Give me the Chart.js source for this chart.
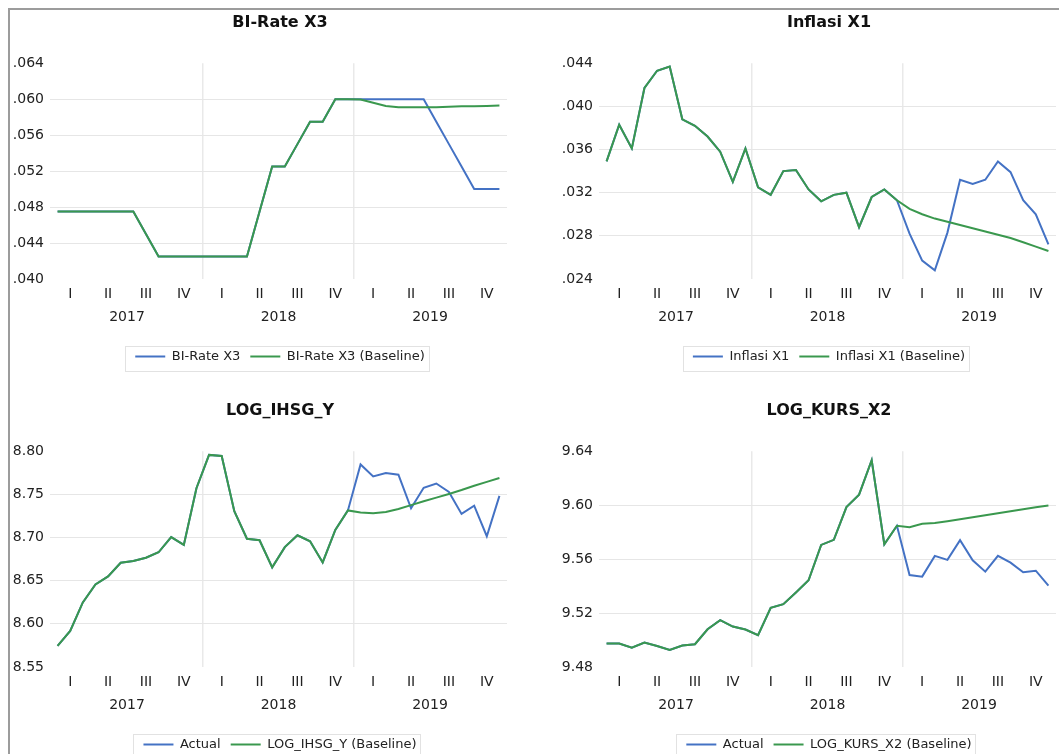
<!DOCTYPE html>
<html>
<head>
<meta charset="utf-8">
<script src="https://cdn.jsdelivr.net/npm/chart.js@4.4.1/dist/chart.umd.min.js"></script>
<style>
html, body { margin: 0; padding: 0; background: #fff; overflow: hidden; width: 1059px; height: 754px; }
#frame { position: absolute; left: 8px; top: 8px; width: 1200px; height: 900px; border-left: 2px solid #9c9c9c; border-top: 2px solid #9c9c9c; }
canvas { position: absolute; }
</style>
</head>
<body>
<div id="frame"></div>
<canvas id="c1" width="540" height="375" style="left:10px;top:10px"></canvas>
<canvas id="c2" width="540" height="375" style="left:559px;top:10px"></canvas>
<canvas id="c3" width="540" height="375" style="left:10px;top:398px"></canvas>
<canvas id="c4" width="540" height="375" style="left:559px;top:398px"></canvas>
<script>
// monthly sample 2017M01 - 2019M12
let months = [
    '2017M01','2017M02','2017M03','2017M04','2017M05','2017M06','2017M07','2017M08','2017M09','2017M10','2017M11','2017M12',
    '2018M01','2018M02','2018M03','2018M04','2018M05','2018M06','2018M07','2018M08','2018M09','2018M10','2018M11','2018M12',
    '2019M01','2019M02','2019M03','2019M04','2019M05','2019M06','2019M07','2019M08','2019M09','2019M10','2019M11','2019M12'
]
let quarterNames = ['I', 'II', 'III', 'IV']
let years = ['2017', '2018', '2019']

let biRate = [
    .0475, .0475, .0475, .0475, .0475, .0475, .0475, .0450, .0425, .0425, .0425, .0425,
    .0425, .0425, .0425, .0425, .0475, .0525, .0525, .0550, .0575, .0575, .0600, .0600,
    .0600, .0600, .0600, .0600, .0600, .0600, .0575, .0550, .0525, .0500, .0500, .0500
]
let biRateBase = [
    .0475, .0475, .0475, .0475, .0475, .0475, .0475, .0450, .0425, .0425, .0425, .0425,
    .0425, .0425, .0425, .0425, .0475, .0525, .0525, .0550, .0575, .0575, .0600, .0600,
    .05995, .0596, .05925, .0591, .0591, .0591, .0591, .05915, .0592, .0592, .05925, .0593
]
let biRateTicks = [.040, .044, .048, .052, .056, .060, .064]

let inflasi = [
    .0349, .0383, .0361, .0417, .0433, .0437, .0388, .0382, .0372, .0358, .0330, .0361,
    .0325, .0318, .0340, .0341, .0323, .0312, .0318, .0320, .0288, .0316, .0323, .0313,
    .0282, .0257, .0248, .0283, .0332, .0328, .0332, .0349, .0339, .0313, .0300, .0272
]
let inflasiBase = [
    .0349, .0383, .0361, .0417, .0433, .0437, .0388, .0382, .0372, .0358, .0330, .0361,
    .0325, .0318, .0340, .0341, .0323, .0312, .0318, .0320, .0288, .0316, .0323, .0313,
    .0305, .0300, .0296, .0293, .0290, .0287, .0284, .0281, .0278, .0274, .0270, .0266
]
let inflasiTicks = [.024, .028, .032, .036, .040, .044]

let ihsg = [
    8.5744, 8.5917, 8.6248, 8.6456, 8.6549, 8.6707, 8.6727, 8.6766, 8.6829, 8.7005, 8.6915, 8.7571,
    8.7957, 8.7944, 8.7305, 8.6986, 8.6968, 8.6655, 8.6889, 8.7026, 8.6956, 8.6711, 8.7088, 8.7314,
    8.7846, 8.7708, 8.7747, 8.7727, 8.7338, 8.7576, 8.7626, 8.7528, 8.7273, 8.7369, 8.7015, 8.7482
]
let ihsgBase = [
    8.5744, 8.5917, 8.6248, 8.6456, 8.6549, 8.6707, 8.6727, 8.6766, 8.6829, 8.7005, 8.6915, 8.7571,
    8.7957, 8.7944, 8.7305, 8.6986, 8.6968, 8.6655, 8.6889, 8.7026, 8.6956, 8.6711, 8.7088, 8.7314,
    8.7290, 8.7282, 8.7295, 8.7330, 8.7375, 8.7420, 8.7462, 8.7505, 8.7550, 8.7600, 8.7645, 8.7690
]
let ihsgTicks = [8.55, 8.60, 8.65, 8.70, 8.75, 8.80]

let kurs = [
    9.4974, 9.4974, 9.4944, 9.4981, 9.4956, 9.4927, 9.4959, 9.4969, 9.5080, 9.5147, 9.5100, 9.5078,
    9.5036, 9.5239, 9.5266, 9.5353, 9.5443, 9.5705, 9.5743, 9.5986, 9.6078, 9.6333, 9.5710, 9.5847,
    9.5482, 9.5470, 9.5624, 9.5594, 9.5740, 9.5591, 9.5507, 9.5624, 9.5574, 9.5502, 9.5514, 9.5403
]
let kursBase = [
    9.4974, 9.4974, 9.4944, 9.4981, 9.4956, 9.4927, 9.4959, 9.4969, 9.5080, 9.5147, 9.5100, 9.5078,
    9.5036, 9.5239, 9.5266, 9.5353, 9.5443, 9.5705, 9.5743, 9.5986, 9.6078, 9.6333, 9.5710, 9.5847,
    9.5837, 9.5862, 9.5867, 9.5880, 9.5895, 9.5910, 9.5925, 9.5940, 9.5955, 9.5969, 9.5984, 9.5998
]
let kursTicks = [9.48, 9.52, 9.56, 9.60, 9.64]

let blue = '#4472c4'
let green = '#3a984e'
let fontName = 'DejaVu Sans'

// quarter labels at mid-quarter, year labels at mid-year (second line)
let xTicks = []
years.forEach(function(yr, y) {
    quarterNames.forEach(function(q, k) { xTicks.push({value: y * 12 + k * 3 + 1, label: q}) })
    xTicks.push({value: y * 12 + 5.5, label: ['', yr]})
})
xTicks.sort(function(a, b) { return a.value - b.value })
let yearBreaks = years.slice(1).map(function(yr, y) { return y * 12 + 11.5 })

let legendFrame = {
    id: 'legendFrame',
    afterDraw: function(chart) {
        let boxes = chart.legend.legendHitBoxes
        if (!boxes || !boxes.length) return
        let left = Math.min(...boxes.map(b => b.left))
        let right = Math.max(...boxes.map(b => b.left + b.width))
        let mid = boxes[0].top + boxes[0].height / 2
        let ctx = chart.ctx
        ctx.save()
        ctx.strokeStyle = '#e2e2e2'
        ctx.lineWidth = 1
        ctx.strokeRect(Math.round(left - 10) + 0.5, Math.round(mid - 11) + 0.5, Math.round(right - left + 14), 25)
        ctx.restore()
    }
}

function makeChart(id, title, names, actual, baseline, yTicks, fmt) {
    let ctx = document.getElementById(id).getContext('2d')
    return new Chart(ctx, {
        type: 'line',
        data: {
            labels: months,
            datasets: [
                {label: names[0], data: actual.map((v, i) => ({x: i, y: v})), borderColor: blue, backgroundColor: blue, order: 1},
                {label: names[1], data: baseline.map((v, i) => ({x: i, y: v})), borderColor: green, backgroundColor: green, order: 0}
            ]
        },
        options: {
            responsive: false,
            devicePixelRatio: 1,
            animation: false,
            layout: {padding: {left: 0, right: 0, top: 0, bottom: 12}},
            elements: {
                line: {borderWidth: 2, tension: 0},
                point: {radius: 0, hoverRadius: 0}
            },
            scales: {
                x: {
                    type: 'linear', position: 'bottom', min: -0.6, max: 35.6,
                    afterBuildTicks: s => { s.ticks = xTicks.map(t => ({value: t.value})) },
                    afterFit: s => { s.height = 61 },
                    ticks: {
                        autoSkip: false, maxRotation: 0, minRotation: 0, padding: -4,
                        font: {family: fontName, size: 14, lineHeight: 23 / 14},
                        color: '#222',
                        callback: (v, i) => xTicks[i] ? xTicks[i].label : ''
                    },
                    grid: {display: false},
                    border: {display: false}
                },
                xg: {
                    type: 'linear', position: 'bottom', min: -0.6, max: 35.6,
                    afterBuildTicks: s => { s.ticks = yearBreaks.map(v => ({value: v})) },
                    afterFit: s => { s.height = 0 },
                    ticks: {display: false},
                    grid: {color: '#e9e9e9', lineWidth: 1.5, drawTicks: false},
                    border: {display: false}
                },
                y: {
                    type: 'linear', min: yTicks[0], max: yTicks[yTicks.length - 1],
                    afterBuildTicks: s => { s.ticks = yTicks.map(v => ({value: v})) },
                    afterFit: s => { s.width = 40 },
                    ticks: {
                        padding: 6, color: '#222',
                        font: {family: fontName, size: 14},
                        callback: v => fmt(v)
                    },
                    grid: {
                        color: c => (c.index === 0 || c.index === yTicks.length - 1) ? 'rgba(0,0,0,0)' : '#e6e6e6',
                        drawTicks: false
                    },
                    border: {display: false}
                },
                yr: {
                    type: 'linear', position: 'right',
                    afterFit: s => { s.width = 43 },
                    ticks: {display: false},
                    grid: {display: false},
                    border: {display: false}
                }
            },
            plugins: {
                title: {
                    display: true, text: title, color: '#111',
                    font: {family: fontName, size: 16, weight: 'bold'},
                    padding: {top: 3, bottom: 31}
                },
                legend: {
                    position: 'bottom',
                    labels: {
                        boxWidth: 30, boxHeight: 2, padding: 10, color: '#222',
                        font: {family: fontName, size: 13},
                        generateLabels: function(chart) {
                            let items = Chart.defaults.plugins.legend.labels.generateLabels(chart)
                            items.forEach(function(it) { it.lineWidth = 0; it.fillStyle = it.strokeStyle })
                            return items.sort((a, b) => a.datasetIndex - b.datasetIndex)
                        }
                    }
                },
                tooltip: {enabled: false}
            }
        },
        plugins: [legendFrame]
    })
}

let rateFmt = v => v.toFixed(3).replace(/^0/, '')
let logFmt = v => v.toFixed(2)

makeChart('c1', 'BI-Rate X3', ['BI-Rate X3', 'BI-Rate X3 (Baseline)'], biRate, biRateBase, biRateTicks, rateFmt)
makeChart('c2', 'Inflasi X1', ['Inflasi X1', 'Inflasi X1 (Baseline)'], inflasi, inflasiBase, inflasiTicks, rateFmt)
makeChart('c3', 'LOG_IHSG_Y', ['Actual', 'LOG_IHSG_Y (Baseline)'], ihsg, ihsgBase, ihsgTicks, logFmt)
makeChart('c4', 'LOG_KURS_X2', ['Actual', 'LOG_KURS_X2 (Baseline)'], kurs, kursBase, kursTicks, logFmt)
</script>
</body>
</html>
